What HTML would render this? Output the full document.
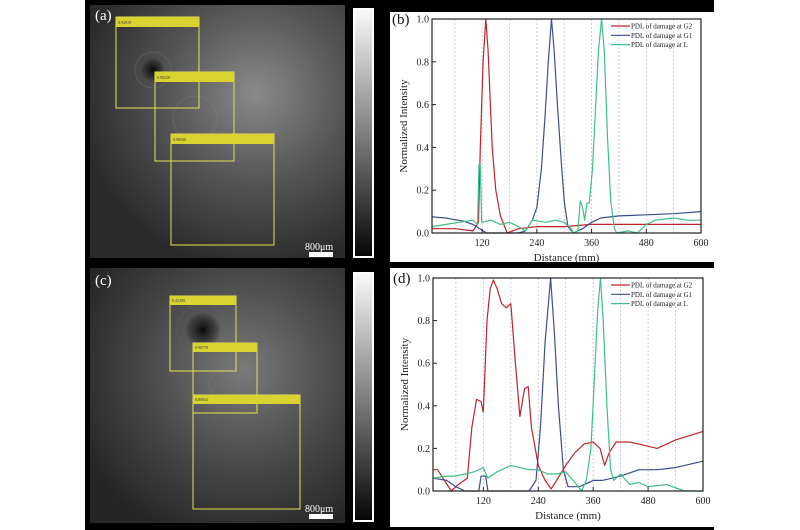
<!DOCTYPE html>
<html><head><meta charset="utf-8"><style>
html,body{margin:0;padding:0;background:#fff;}
svg{display:block;font-family:"Liberation Serif",serif;}
</style></head><body>
<svg id="fig" width="800" height="530" viewBox="0 0 800 530">
<defs>
<radialGradient id="gA" cx="0.65" cy="0.35" r="0.7"><stop offset="0" stop-color="#8a8a8a"/><stop offset="0.5" stop-color="#555"/><stop offset="1" stop-color="#2a2a2a"/></radialGradient>
<radialGradient id="gC" cx="0.6" cy="0.4" r="0.7"><stop offset="0" stop-color="#7a7a7a"/><stop offset="0.5" stop-color="#4c4c4c"/><stop offset="1" stop-color="#262626"/></radialGradient>
<radialGradient id="spot" cx="0.5" cy="0.5" r="0.5"><stop offset="0" stop-color="#000" stop-opacity="0.9"/><stop offset="0.6" stop-color="#111" stop-opacity="0.5"/><stop offset="1" stop-color="#000" stop-opacity="0"/></radialGradient>
<linearGradient id="cbar" x1="0" y1="0" x2="0" y2="1"><stop offset="0" stop-color="#fafafa"/><stop offset="1" stop-color="#050505"/></linearGradient>
</defs>
<rect x="85" y="0" width="629" height="530" fill="#000"/>

<g>
<rect x="90" y="5" width="255" height="253" fill="url(#gA)"/>
<circle cx="153" cy="70" r="12" fill="url(#spot)"/>
<circle cx="153" cy="70" r="18" fill="none" stroke="#777" stroke-opacity="0.4"/>
<circle cx="195" cy="118" r="22" fill="none" stroke="#888" stroke-opacity="0.3"/>
<text x="95" y="20" fill="#fff" font-size="15">(a)</text>
<g fill="none" stroke="#e6e05a" stroke-width="1">
<rect x="116" y="17" width="83" height="91"/><rect x="155" y="72" width="79" height="89"/><rect x="171" y="134" width="103" height="111"/></g>
<rect x="116" y="17" width="83" height="10" fill="#d8d330"/><rect x="155" y="72" width="79" height="10" fill="#d8d330"/><rect x="171" y="134" width="103" height="10" fill="#d8d330"/>
<text x="118" y="24" font-size="4" fill="#333">0.94919</text><text x="157" y="79" font-size="4" fill="#333">0.90229</text><text x="173" y="141" font-size="4" fill="#333">0.98946</text>
<text x="305" y="250" fill="#fff" font-size="10">800μm</text>
<rect x="309" y="252" width="24" height="5" fill="#fff"/>
</g>
<rect x="354" y="9" width="19" height="248" fill="url(#cbar)" stroke="#fff" stroke-width="2"/>

<g>
<rect x="90" y="268" width="255" height="255" fill="url(#gC)"/>
<circle cx="203" cy="330" r="18" fill="url(#spot)"/>
<circle cx="203" cy="330" r="26" fill="none" stroke="#666" stroke-opacity="0.4"/>
<circle cx="224" cy="384" r="15" fill="none" stroke="#888" stroke-opacity="0.3"/>
<text x="95" y="285" fill="#fff" font-size="15">(c)</text>
<g fill="none" stroke="#e6e05a" stroke-width="1">
<rect x="170" y="296" width="66" height="75"/><rect x="193" y="343" width="64" height="70"/><rect x="193" y="395" width="107" height="114"/></g>
<rect x="170" y="296" width="66" height="9" fill="#d8d330"/><rect x="193" y="343" width="64" height="9" fill="#d8d330"/><rect x="193" y="395" width="107" height="9" fill="#d8d330"/>
<text x="172" y="302" font-size="4" fill="#333">0.43290</text><text x="195" y="349" font-size="4" fill="#333">0.90779</text><text x="195" y="401" font-size="4" fill="#333">0.80933</text>
<text x="305" y="512" fill="#fff" font-size="10">800μm</text>
<rect x="309" y="514" width="24" height="5" fill="#fff"/>
</g>
<rect x="354" y="273" width="19" height="248" fill="url(#cbar)" stroke="#fff" stroke-width="2"/>

<rect x="390" y="12" width="324" height="250" fill="#fff"/>
<rect x="390" y="268" width="324" height="259" fill="#fff"/>
<g id="chartB"></g>
<g id="chartD"></g>
</svg>
<script>
const xTicks = [120, 240, 360, 480, 600];
const yTicks = [0, 0.2, 0.4, 0.6, 0.8, 1.0];
const gridX = [60, 120, 180, 240, 300, 360, 420, 480, 540];
const seriesNames = ["PDL of damage at G2", "PDL of damage at G1", "PDL of damage at L"];
const seriesColors = ["#c0232b", "#3a4f8c", "#3fbf86"];

const bRedX = [10,60,100,112,116,122,128,133,142,150,160,175,200,240,300,360,420,480,540,600];
const bRedY = [0.02,0.02,0.01,0.05,0.4,0.8,1.0,0.85,0.4,0.2,0.08,0.0,0.02,0.03,0.03,0.04,0.04,0.04,0.04,0.04];
const bBlueX = [10,40,80,100,115,130,150,180,200,215,230,240,250,258,265,272,278,285,293,300,308,320,340,360,380,420,480,540,600];
const bBlueY = [0.075,0.07,0.055,0.04,0.02,0.0,0.0,0.0,0.0,0.01,0.06,0.12,0.3,0.55,0.8,1.0,0.85,0.6,0.35,0.15,0.03,0.0,0.02,0.05,0.07,0.08,0.085,0.09,0.1];
const bGreenX = [10,40,70,100,110,113,116,119,140,160,180,200,215,230,260,280,300,315,320,330,335,340,345,350,355,362,368,375,382,388,395,402,410,415,440,460,480,500,540,570,600];
const bGreenY = [0.03,0.04,0.05,0.06,0.04,0.32,0.32,0.05,0.06,0.04,0.05,0.03,0.01,0.06,0.05,0.06,0.05,0.02,0.0,0.01,0.15,0.12,0.06,0.14,0.14,0.3,0.55,0.85,1.0,0.85,0.45,0.15,0.02,0.0,0.01,0.0,0.04,0.06,0.07,0.06,0.06];

const dRedX = [10,20,35,50,65,85,95,105,115,120,128,135,142,150,160,170,180,190,200,210,218,225,240,255,268,280,300,320,340,360,375,385,395,410,440,460,500,540,600];
const dRedY = [0.1,0.1,0.05,0.0,0.03,0.06,0.3,0.43,0.42,0.37,0.8,0.95,0.99,0.95,0.88,0.86,0.88,0.6,0.35,0.48,0.49,0.3,0.12,0.05,0.01,0.05,0.12,0.18,0.22,0.23,0.2,0.12,0.18,0.23,0.23,0.22,0.2,0.24,0.28];
const dBlueX = [10,40,60,80,110,115,125,130,200,220,235,245,255,267,275,284,295,305,330,360,380,420,460,500,540,600];
const dBlueY = [0.06,0.05,0.02,0.0,0.0,0.07,0.07,0.0,0.0,0.0,0.05,0.3,0.7,1.0,0.75,0.4,0.1,0.02,0.02,0.05,0.05,0.07,0.1,0.1,0.11,0.14];
const dGreenX = [10,40,60,80,100,120,130,150,180,200,220,240,260,280,300,320,335,345,355,362,370,376,382,390,398,405,420,440,460,480,520,560,600];
const dGreenY = [0.06,0.07,0.07,0.08,0.09,0.11,0.06,0.09,0.12,0.11,0.1,0.1,0.08,0.08,0.09,0.04,0.0,0.05,0.2,0.5,0.85,1.0,0.8,0.4,0.1,0.05,0.08,0.03,0.04,0.02,0.03,0.0,0.0];

const NS = "http://www.w3.org/2000/svg";
function mk(parent, tag, attrs, text) {
  const e = document.createElementNS(NS, tag);
  for (const k in attrs) e.setAttribute(k, attrs[k]);
  if (text !== undefined) e.textContent = text;
  parent.appendChild(e);
  return e;
}
function drawChart(gid, box, label, data) {
  const g = document.getElementById(gid);
  const sx = v => box.x0 + (v - 10) / 590 * (box.x1 - box.x0);
  const sy = v => box.yb - v * (box.yb - box.yt);
  gridX.forEach(v => {
    const l = mk(g, "line", {x1: sx(v), x2: sx(v), y1: box.yt, y2: box.yb, stroke: "#bbb", "stroke-width": 0.7, "stroke-dasharray": "2,2"});
    
    
  });
  data.forEach((s, i) => {
    const d = s[0].map((x, j) => (j ? "L" : "M") + sx(x).toFixed(1) + "," + sy(s[1][j]).toFixed(1)).join("");
    const p = mk(g, "path", {d: d, fill: "none", stroke: seriesColors[i], "stroke-width": 1.2, "stroke-linejoin": "round"});
    
    
  });
  const frame = mk(g, "rect", {x: box.x0, y: box.yt, width: box.x1 - box.x0, height: box.yb - box.yt, fill: "none", stroke: "#222", "stroke-width": 1.2});
  
  
  xTicks.forEach(v => {
    mk(g, "line", {x1: sx(v), x2: sx(v), y1: box.yb, y2: box.yb - 4, stroke: "#222"});
    const t = mk(g, "text", {x: sx(v), y: box.yb + 13, "text-anchor": "middle", "font-size": 10, fill: "#222"}, String(v));
    
    
  });
  yTicks.forEach(v => {
    mk(g, "line", {x1: box.x0, x2: box.x0 + 4, y1: sy(v), y2: sy(v), stroke: "#222"});
    const t = mk(g, "text", {x: box.x0 - 3, y: sy(v) + 3.5, "text-anchor": "end", "font-size": 10, fill: "#222"}, v.toFixed(1));
    
    
  });
  const xt = mk(g, "text", {x: (box.x0 + box.x1) / 2, y: box.yb + 28, "text-anchor": "middle", "font-size": 11, fill: "#222"}, "Distance (mm)");
  
  
  const cy = (box.yt + box.yb) / 2;
  const yt = mk(g, "text", {x: 0, y: 0, transform: "translate(" + (box.x0 - 25) + "," + cy + ") rotate(-90)", "text-anchor": "middle", "font-size": 11, fill: "#222"}, "Normalized Intensity");
  
  
  const pl = mk(g, "text", {x: box.x0 - 40, y: box.yt + 5, "font-size": 15, fill: "#111"}, label);
  
  
  seriesNames.forEach((n, i) => {
    const ly = box.yt + 7 + i * 9.3;
    mk(g, "line", {x1: 611, x2: 630, y1: ly, y2: ly, stroke: seriesColors[i], "stroke-width": 1.2});
    const t = mk(g, "text", {x: 631, y: ly + 2.5, "font-size": 7, fill: "#222"}, n);
    
    
  });
}
drawChart("chartB", {x0: 432, x1: 701, yt: 19, yb: 233}, "(b)", [[bRedX, bRedY], [bBlueX, bBlueY], [bGreenX, bGreenY]]);
drawChart("chartD", {x0: 433, x1: 703, yt: 278, yb: 491}, "(d)", [[dRedX, dRedY], [dBlueX, dBlueY], [dGreenX, dGreenY]]);
</script>
</body></html>
